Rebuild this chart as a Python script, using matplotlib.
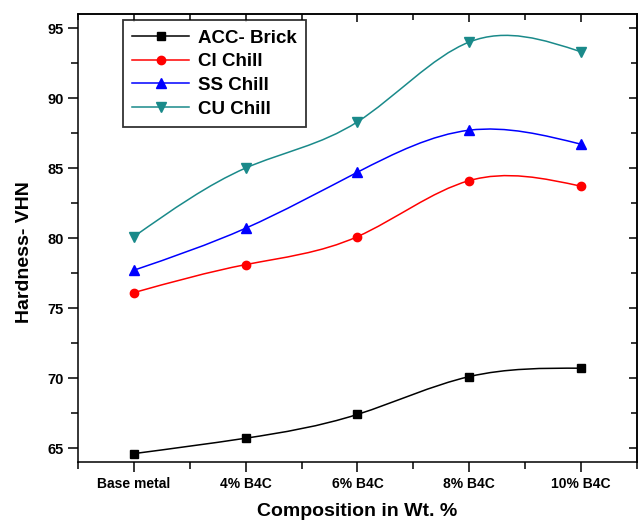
import matplotlib
matplotlib.use("Agg")
import matplotlib.pyplot as plt
import numpy as np
from matplotlib.path import Path
from matplotlib.patches import PathPatch
from matplotlib.lines import Line2D
from matplotlib.ticker import MultipleLocator

categories = ["Base metal", "4% B4C", "6% B4C", "8% B4C", "10% B4C"]
acc_brick = [64.6, 65.7, 67.4, 70.1, 70.7]
ci_chill = [76.1, 78.1, 80.1, 84.1, 83.7]
ss_chill = [77.7, 80.7, 84.7, 87.7, 86.7]
cu_chill = [80.1, 85.0, 88.3, 94.0, 93.3]

plt.rcParams['font.family'] = ['Liberation Sans', 'DejaVu Sans']
plt.rcParams['font.weight'] = 'bold'


def spline_path(x, y):
    # natural cubic spline drawn as bezier segments (uniform spacing)
    x = np.asarray(x, float)
    y = np.asarray(y, float)
    n = len(y)
    A = np.zeros((n, n))
    b = np.zeros(n)
    A[0, 0] = 1
    A[-1, -1] = 1
    for i in range(1, n - 1):
        A[i, i - 1], A[i, i], A[i, i + 1] = 1, 4, 1
        b[i] = 6 * (y[i + 1] - 2 * y[i] + y[i - 1])
    M = np.linalg.solve(A, b)
    s = np.zeros(n)
    for i in range(n - 1):
        s[i] = (y[i + 1] - y[i]) - (2 * M[i] + M[i + 1]) / 6
    s[-1] = (y[-1] - y[-2]) + (M[-2] + 2 * M[-1]) / 6
    verts = [(x[0], y[0])]
    codes = [Path.MOVETO]
    for i in range(n - 1):
        verts += [(x[i] + 1 / 3, y[i] + s[i] / 3),
                  (x[i + 1] - 1 / 3, y[i + 1] - s[i + 1] / 3),
                  (x[i + 1], y[i + 1])]
        codes += [Path.CURVE4] * 3
    return Path(verts, codes)


fig = plt.figure(figsize=(6.38, 5.25), dpi=100)
ax = fig.add_axes([0.1223, 0.12, 0.876, 0.8533])

xpos = np.arange(len(categories))
series = [
    ("ACC- Brick", acc_brick, "black", "s", 6),
    ("CI Chill", ci_chill, "red", "o", 6),
    ("SS Chill", ss_chill, "blue", "^", 7.5),
    ("CU Chill", cu_chill, "#1a8a8a", "v", 7.5),
]
handles = []
for label, vals, col, mk, ms in series:
    ax.add_patch(PathPatch(spline_path(xpos, vals), facecolor="none",
                           edgecolor=col, lw=1.1))
    ax.plot(xpos, vals, linestyle="none", marker=mk, color=col, ms=ms)
    handles.append(Line2D([], [], color=col, marker=mk, ms=ms, lw=1.1,
                          label=label))

ax.set_xlim(-0.5, 4.5)
ax.set_ylim(64, 96)
ax.set_xticks(xpos)
ax.set_xticklabels(categories, fontsize=10, fontweight="bold")
ax.xaxis.set_minor_locator(MultipleLocator(0.5))
ax.yaxis.set_major_locator(MultipleLocator(5))
ax.yaxis.set_minor_locator(MultipleLocator(2.5))
for t in ax.get_yticklabels():
    t.set_fontsize(10.5)
    t.set_fontweight("bold")

ax.tick_params(which="both", direction="out", width=1.1)
ax.tick_params(which="major", length=7)
ax.tick_params(which="minor", length=5)
# mirrored top / right ticks point inward
sec_x = ax.secondary_xaxis("top")
sec_x.set_xticks(xpos)
sec_x.set_xticklabels([])
sec_x.xaxis.set_minor_locator(MultipleLocator(0.5))
sec_x.tick_params(which="both", direction="in", width=1.1)
sec_x.tick_params(which="major", length=6)
sec_x.tick_params(which="minor", length=4)
sec_y = ax.secondary_yaxis("right")
sec_y.yaxis.set_major_locator(MultipleLocator(5))
sec_y.yaxis.set_minor_locator(MultipleLocator(2.5))
sec_y.set_yticklabels([])
sec_y.tick_params(which="both", direction="in", width=1.1)
sec_y.tick_params(which="major", length=6)
sec_y.tick_params(which="minor", length=4)
for sp in ax.spines.values():
    sp.set_linewidth(1.1)
sec_x.spines["top"].set_linewidth(1.1)
sec_y.spines["right"].set_linewidth(1.1)

ax.set_xlabel("Composition in Wt. %", fontsize=14, fontweight="bold",
              labelpad=9)
ax.set_ylabel("Hardness- VHN", fontsize=14, fontweight="bold")
ax.yaxis.set_label_coords(-0.081, 0.469)

leg = ax.legend(handles=handles, loc="upper left",
                bbox_to_anchor=(0.0805, 0.9866), borderaxespad=0,
                fancybox=False, edgecolor="black", borderpad=0.5,
                handlelength=3.0, labelspacing=0.35, handletextpad=0.5,
                prop={"weight": "bold", "size": 13.5})
leg.get_frame().set_linewidth(1.3)

fig.savefig("out.png", dpi=100)
